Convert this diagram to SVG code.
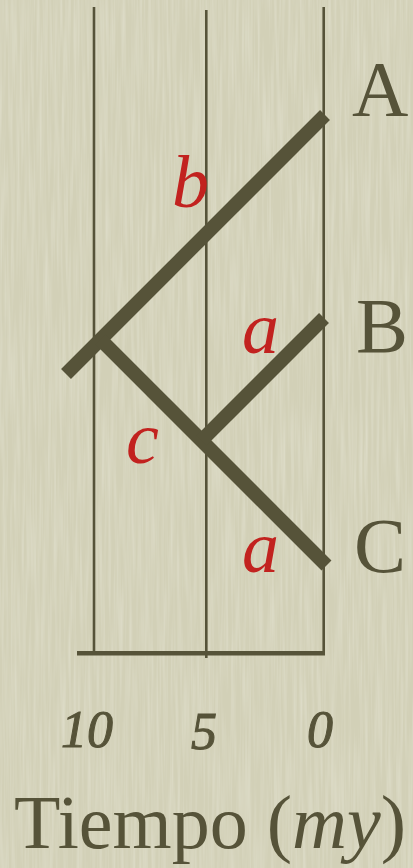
<svg xmlns="http://www.w3.org/2000/svg" width="413" height="868" viewBox="0 0 413 868">
  <defs>
    <filter id="grain" x="0" y="0" width="100%" height="100%">
      <feTurbulence type="fractalNoise" baseFrequency="0.35 0.012" numOctaves="2" seed="3" result="n"/>
      <feColorMatrix in="n" type="matrix" values="0 0 0 0 0.93  0 0 0 0 0.93  0 0 0 0 0.86  0 0 0 0.55 -0.2"/>
    </filter>
    <style>
      .grid { stroke: #565339; stroke-width: 2.6; fill: none; }
      .base { stroke: #565339; stroke-width: 4.6; fill: none; }
      .branch { stroke: #565339; stroke-width: 14; fill: none; stroke-linecap: butt; }
      .tip { font-family: "Liberation Serif", "Times New Roman", serif; font-size: 78px; fill: #565339; }
      .len { font-family: "Liberation Serif", "Times New Roman", serif; font-style: italic; font-size: 74px; fill: #c2221f; }
      .tick { font-family: "Liberation Serif", "Times New Roman", serif; font-style: italic; font-size: 52px; fill: #565339; stroke: #565339; stroke-width: 1; }
      .axis { font-family: "Liberation Serif", "Times New Roman", serif; font-size: 76px; fill: #565339; }
    </style>
  </defs>
  <rect x="0" y="0" width="413" height="868" fill="#d2d0b7"/>
  <rect x="0" y="0" width="413" height="868" filter="url(#grain)"/>

  <g id="axis">
    <line class="grid" x1="94" y1="7" x2="94" y2="653"/>
    <line class="grid" x1="206.3" y1="10" x2="206.3" y2="658"/>
    <line class="grid" x1="323.7" y1="7" x2="323.7" y2="653"/>
    <line class="base" x1="77" y1="653.2" x2="325" y2="653.2"/>
    <text class="tick" x="87" y="747" text-anchor="middle">10</text>
    <text class="tick" x="204" y="749" text-anchor="middle">5</text>
    <text class="tick" x="320" y="747" text-anchor="middle">0</text>
    <text class="axis" x="14" y="848">Tiempo (<tspan font-style="italic">my</tspan>)</text>
  </g>

  <g id="connectors">
    <line class="branch" x1="325" y1="115" x2="66" y2="374"/>
    <line class="branch" x1="100.5" y1="339.5" x2="326.5" y2="565.5"/>
    <line class="branch" x1="201.5" y1="440.5" x2="324" y2="318"/>
  </g>

  <g id="labels">
    <text class="len" x="172" y="207">b</text>
    <text class="len" x="242" y="353">a</text>
    <text class="len" x="126" y="463">c</text>
    <text class="len" x="242" y="572">a</text>
  </g>

  <g id="node-A"><text class="tip" x="352" y="115">A</text></g>
  <g id="node-B"><text class="tip" x="356" y="352">B</text></g>
  <g id="node-C"><text class="tip" x="354" y="572">C</text></g>
</svg>
